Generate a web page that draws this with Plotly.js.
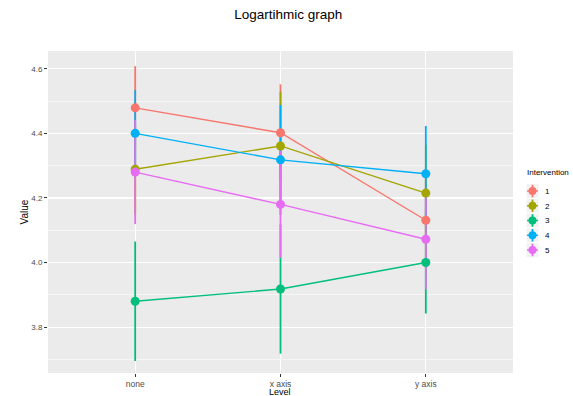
<!DOCTYPE html>
<html>
<head>
<meta charset="utf-8">
<script src="https://cdn.plot.ly/plotly-3.0.1.min.js"></script>
<style>
  html, body { margin: 0; padding: 0; background: #fff; }
  #chart { width: 573px; height: 396px; }
</style>
</head>
<body>
<div id="chart"></div>
<script>
// Category levels on the x axis
const levels = ['none', 'x axis', 'y axis'];

// Intervention groups
const interventions = ['1', '2', '3', '4', '5'];
const colors = ['#F8766D', '#A3A500', '#00BF7D', '#00B0F6', '#E76BF3'];

// Mean value per intervention at each level
const mean1 = [4.479, 4.402, 4.131];
const mean2 = [4.289, 4.361, 4.215];
const mean3 = [3.880, 3.918, 4.000];
const mean4 = [4.400, 4.318, 4.275];
const mean5 = [4.280, 4.180, 4.072];

// Half-width of the error bar per intervention at each level
const err1 = [0.129, 0.150, 0.130];
const err2 = [0.140, 0.168, 0.150];
const err3 = [0.185, 0.200, 0.158];
const err4 = [0.134, 0.170, 0.148];
const err5 = [0.161, 0.165, 0.155];

const means = [mean1, mean2, mean3, mean4, mean5];
const errs = [err1, err2, err3, err4, err5];

const traces = [];

// Error bars first so every line and point sits above them
interventions.forEach((name, i) => {
  traces.push({
    type: 'scatter', mode: 'markers', x: levels, y: means[i],
    xaxis: 'x', yaxis: 'y',
    marker: { size: 1, opacity: 0, color: colors[i] },
    error_y: { type: 'data', array: errs[i], visible: true, width: 0, thickness: 1.8, color: colors[i] },
    showlegend: false, hoverinfo: 'skip'
  });
});

// Lines connecting the means, then the points
interventions.forEach((name, i) => {
  traces.push({
    type: 'scatter', mode: 'lines+markers', x: levels, y: means[i],
    xaxis: 'x', yaxis: 'y', name: name,
    line: { color: colors[i], width: 1.4 },
    marker: { color: colors[i], size: 9 },
    showlegend: false
  });
});

// Legend keys drawn on their own small axes: a crossing of the
// error-bar stroke, the line stroke and the point, per intervention
const keyPos = interventions.map((_, i) => i + 1);
const keyShapes = [];
interventions.forEach((name, i) => {
  keyShapes.push({
    type: 'rect', xref: 'x2', yref: 'y2', layer: 'below',
    x0: 0, x1: 1, y0: keyPos[i] - 0.5, y1: keyPos[i] + 0.5,
    fillcolor: '#F2F2F2', line: { color: '#FFFFFF', width: 1 }
  });
  traces.push({
    type: 'scatter', mode: 'lines', x: [0.08, 0.92], y: [keyPos[i], keyPos[i]],
    xaxis: 'x2', yaxis: 'y2',
    line: { color: colors[i], width: 1.4 },
    showlegend: false, hoverinfo: 'skip'
  });
  traces.push({
    type: 'scatter', mode: 'markers', x: [0.5], y: [keyPos[i]],
    xaxis: 'x2', yaxis: 'y2',
    marker: { color: colors[i], size: 8 },
    error_y: { type: 'constant', value: 0.42, visible: true, width: 0, thickness: 1.8, color: colors[i] },
    showlegend: false, hoverinfo: 'skip'
  });
});

const layout = {
  width: 573, height: 396,
  margin: { l: 48, r: 0, t: 51, b: 23 },
  paper_bgcolor: '#FFFFFF',
  plot_bgcolor: '#FFFFFF',
  font: { family: 'Liberation Sans, Arial, sans-serif', color: '#4D4D4D' },
  title: {
    text: 'Logartihmic graph',
    font: { size: 13.5, color: '#000000' },
    x: 0.4575, xanchor: 'center', xref: 'paper',
    y: 0.965, yanchor: 'middle'
  },
  xaxis: {
    domain: [0, 0.8857], anchor: 'y',
    type: 'category', categoryarray: levels, range: [-0.6, 2.6],
    showgrid: true, gridcolor: '#FFFFFF', gridwidth: 1.1,
    zeroline: false, showline: false,
    ticks: 'outside', ticklen: 3, tickcolor: '#333333', tickwidth: 1,
    tickfont: { size: 8.5, color: '#4D4D4D' },
    fixedrange: true
  },
  yaxis: {
    domain: [0, 1], anchor: 'x',
    range: [3.658, 4.655],
    tickvals: [3.8, 4.0, 4.2, 4.4, 4.6],
    ticktext: ['3.8', '4.0', '4.2', '4.4', '4.6'],
    showgrid: true, gridcolor: '#FFFFFF', gridwidth: 1.1,
    minor: { tickvals: [3.7, 3.9, 4.1, 4.3, 4.5], showgrid: true, gridcolor: '#FFFFFF', gridwidth: 0.55, ticks: '' },
    zeroline: false, showline: false,
    ticks: 'outside', ticklen: 3, tickcolor: '#333333', tickwidth: 1,
    tickfont: { size: 8, color: '#4D4D4D' },
    title: { text: 'Value', font: { size: 10, color: '#000000' }, standoff: 0 },
    fixedrange: true
  },
  xaxis2: {
    domain: [0.9105, 0.9352], anchor: 'y2', range: [0, 1],
    visible: false, fixedrange: true
  },
  yaxis2: {
    domain: [0.359, 0.588], anchor: 'x2', range: [5.5, 0.5],
    side: 'right', tickvals: keyPos, ticktext: interventions,
    showgrid: false, zeroline: false, showline: false, ticks: '',
    ticklabelstandoff: 5,
    tickfont: { size: 8, color: '#000000' },
    fixedrange: true
  },
  shapes: [
    // grey panel behind the main plot
    { type: 'rect', xref: 'x domain', yref: 'y domain', x0: 0, x1: 1, y0: 0, y1: 1,
      fillcolor: '#EBEBEB', line: { width: 0 }, layer: 'below' }
  ].concat(keyShapes),
  annotations: [
    // x axis title, sitting at the foot of the figure under the category labels
    { text: 'Level', xref: 'x domain', yref: 'paper', x: 0.5, y: -0.0776,
      xanchor: 'center', yanchor: 'bottom', showarrow: false, borderpad: 0,
      font: { size: 9, color: '#000000' } },
    { text: 'Intervention', xref: 'paper', yref: 'paper', x: 0.9086, y: 0.624,
      xanchor: 'left', yanchor: 'middle', showarrow: false,
      font: { size: 8, color: '#000000' } }
  ],
  showlegend: false
};

Plotly.newPlot('chart', traces, layout, { displayModeBar: false, staticPlot: true });
</script>
</body>
</html>
